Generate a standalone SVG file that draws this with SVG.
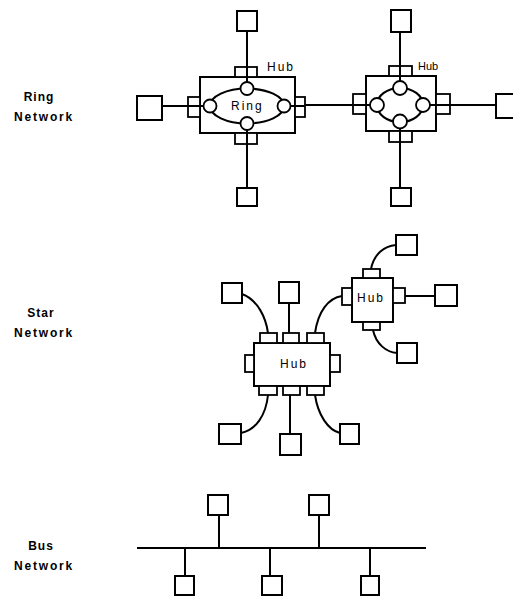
<svg xmlns="http://www.w3.org/2000/svg" width="513" height="599" viewBox="0 0 513 599">
  <style>
    .box { fill: #fff; stroke: #000; stroke-width: 2; }
    .port { fill: #fff; stroke: #000; stroke-width: 1.8; }
    .wire { fill: none; stroke: #000; stroke-width: 2; }
    .ring { fill: none; stroke: #000; stroke-width: 2.2; }
    .node { fill: #fff; stroke: #000; stroke-width: 1.8; }
    .lbl { font-family: "Liberation Sans", Arial, sans-serif; font-weight: bold; font-size: 12px; text-anchor: middle; fill: #000; letter-spacing: 1px; }
    .lbl2 { letter-spacing: 1.8px; }
    .hub { font-family: "Liberation Sans", Arial, sans-serif; font-size: 12px; fill: #000; letter-spacing: 2px; }
  </style>
  <rect width="513" height="599" fill="#fff"/>

  <!-- section labels -->
  <g id="labels">
    <text class="lbl" x="39" y="101">Ring</text>
    <text class="lbl lbl2" x="44" y="121">Network</text>
    <text class="lbl" x="41" y="317">Star</text>
    <text class="lbl lbl2" x="44" y="337">Network</text>
    <text class="lbl" x="41" y="550">Bus</text>
    <text class="lbl lbl2" x="44" y="570">Network</text>
  </g>

  <!-- connectors -->
  <g id="connectors">
    <!-- ring network -->
    <line class="wire" x1="247" y1="31" x2="247" y2="67"/>
    <line class="wire" x1="247" y1="145" x2="247" y2="188"/>
    <line class="wire" x1="162" y1="106" x2="188" y2="106"/>
    <line class="wire" x1="305" y1="105" x2="353" y2="105"/>
    <line class="wire" x1="400" y1="32" x2="400" y2="66"/>
    <line class="wire" x1="400" y1="142" x2="400" y2="188"/>
    <line class="wire" x1="450" y1="105" x2="496" y2="105"/>
    <!-- star network -->
    <path class="wire" d="M242 294 C258 300 266 318 268 333"/>
    <line class="wire" x1="289" y1="303" x2="289" y2="333"/>
    <path class="wire" d="M315 333 C318 312 328 298 342 296"/>
    <path class="wire" d="M371 269 C374 254 384 246 396 245"/>
    <line class="wire" x1="405" y1="296" x2="435" y2="296"/>
    <path class="wire" d="M373 330 C376 344 386 352 397 353"/>
    <path class="wire" d="M268 395 C266 415 256 430 241 433"/>
    <line class="wire" x1="290" y1="395" x2="290" y2="434"/>
    <path class="wire" d="M315 395 C318 415 328 430 340 433"/>
    <!-- bus network -->
    <line class="wire" x1="137" y1="548" x2="426" y2="548"/>
    <line class="wire" x1="219" y1="515" x2="219" y2="548"/>
    <line class="wire" x1="319" y1="515" x2="319" y2="548"/>
    <line class="wire" x1="185" y1="548" x2="185" y2="576"/>
    <line class="wire" x1="270" y1="548" x2="270" y2="576"/>
    <line class="wire" x1="370" y1="548" x2="370" y2="576"/>
  </g>

  <!-- ring hub 1 -->
  <g id="ring-hub-1">
    <rect class="box" x="200" y="77" width="95" height="56"/>
    <rect class="port" x="235" y="67" width="22" height="10"/>
    <rect class="port" x="235" y="133" width="22" height="11"/>
    <rect class="port" x="188" y="97" width="12" height="20"/>
    <rect class="port" x="295" y="97" width="10" height="20"/>
    <line class="wire" x1="247" y1="67" x2="247" y2="88"/>
    <line class="wire" x1="247" y1="122" x2="247" y2="145"/>
    <line class="wire" x1="188" y1="106" x2="210" y2="106"/>
    <line class="wire" x1="283" y1="106" x2="305" y2="106"/>
    <ellipse class="ring" cx="247" cy="106" rx="37" ry="17.5"/>
    <circle class="node" cx="247" cy="88.5" r="6.5"/>
    <circle class="node" cx="247" cy="123.5" r="6.5"/>
    <circle class="node" cx="210" cy="106" r="6.5"/>
    <circle class="node" cx="284" cy="106" r="6.5"/>
    <text class="hub" x="231" y="110">Ring</text>
    <text class="hub" x="267" y="71">Hub</text>
  </g>

  <!-- ring hub 2 -->
  <g id="ring-hub-2">
    <rect class="box" x="366" y="76" width="70" height="55"/>
    <rect class="port" x="389" y="66" width="23" height="10"/>
    <rect class="port" x="389" y="131" width="23" height="11"/>
    <rect class="port" x="353" y="94" width="13" height="20"/>
    <rect class="port" x="436" y="94" width="14" height="20"/>
    <line class="wire" x1="400" y1="66" x2="400" y2="88"/>
    <line class="wire" x1="400" y1="121" x2="400" y2="142"/>
    <line class="wire" x1="353" y1="105" x2="377" y2="105"/>
    <line class="wire" x1="423" y1="105" x2="450" y2="105"/>
    <ellipse class="ring" cx="400" cy="105" rx="23" ry="17"/>
    <circle class="node" cx="400" cy="88" r="7"/>
    <circle class="node" cx="400" cy="121.5" r="7"/>
    <circle class="node" cx="377" cy="105" r="7"/>
    <circle class="node" cx="423" cy="105" r="7"/>
    <text class="hub" x="418" y="70" style="font-size:11px;letter-spacing:0">Hub</text>
  </g>

  <!-- ring stations -->
  <g id="ring-st-1"><rect class="box" x="237" y="11" width="20" height="20"/></g>
  <g id="ring-st-2"><rect class="box" x="237" y="188" width="20" height="18"/></g>
  <g id="ring-st-3"><rect class="box" x="137" y="96" width="25" height="24"/></g>
  <g id="ring-st-4"><rect class="box" x="391" y="10" width="20" height="22"/></g>
  <g id="ring-st-5"><rect class="box" x="391" y="188" width="20" height="18"/></g>
  <g id="ring-st-6"><rect class="box" x="496" y="94" width="18" height="24"/></g>

  <!-- star hub (large) -->
  <g id="star-hub-1">
    <rect class="box" x="254" y="343" width="76" height="43"/>
    <rect class="port" x="260" y="333" width="17" height="10"/>
    <rect class="port" x="283" y="333" width="16" height="10"/>
    <rect class="port" x="307" y="333" width="17" height="10"/>
    <rect class="port" x="259" y="386" width="18" height="9"/>
    <rect class="port" x="283" y="386" width="17" height="9"/>
    <rect class="port" x="307" y="386" width="17" height="9"/>
    <rect class="port" x="245" y="355" width="9" height="17"/>
    <rect class="port" x="330" y="355" width="10" height="17"/>
    <text class="hub" x="280" y="368">Hub</text>
  </g>

  <!-- star hub (small) -->
  <g id="star-hub-2">
    <rect class="box" x="352" y="278" width="41" height="44"/>
    <rect class="port" x="363" y="269" width="17" height="9"/>
    <rect class="port" x="363" y="322" width="17" height="8"/>
    <rect class="port" x="342" y="288" width="10" height="17"/>
    <rect class="port" x="393" y="288" width="12" height="15"/>
    <text class="hub" x="357" y="302">Hub</text>
  </g>

  <!-- star stations -->
  <g id="star-st-1"><rect class="box" x="222" y="283" width="20" height="20"/></g>
  <g id="star-st-2"><rect class="box" x="279" y="282" width="20" height="21"/></g>
  <g id="star-st-3"><rect class="box" x="396" y="235" width="21" height="20"/></g>
  <g id="star-st-4"><rect class="box" x="435" y="285" width="22" height="21"/></g>
  <g id="star-st-5"><rect class="box" x="397" y="343" width="20" height="20"/></g>
  <g id="star-st-6"><rect class="box" x="219" y="424" width="22" height="20"/></g>
  <g id="star-st-7"><rect class="box" x="280" y="434" width="21" height="21"/></g>
  <g id="star-st-8"><rect class="box" x="340" y="424" width="19" height="20"/></g>

  <!-- bus stations -->
  <g id="bus-st-1"><rect class="box" x="208" y="495" width="20" height="20"/></g>
  <g id="bus-st-2"><rect class="box" x="309" y="495" width="20" height="20"/></g>
  <g id="bus-st-3"><rect class="box" x="175" y="576" width="19" height="19"/></g>
  <g id="bus-st-4"><rect class="box" x="262" y="576" width="20" height="19"/></g>
  <g id="bus-st-5"><rect class="box" x="361" y="576" width="18" height="19"/></g>
</svg>
